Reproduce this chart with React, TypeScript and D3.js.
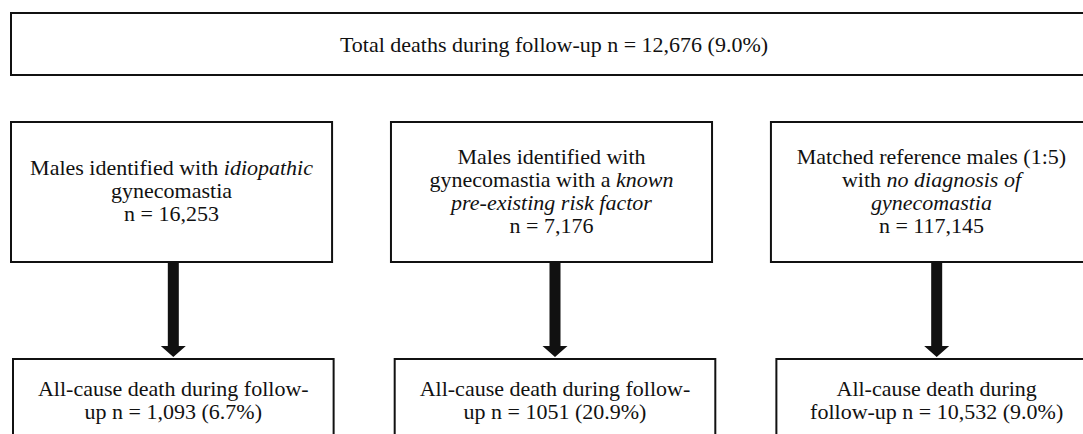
import React, { useRef, useEffect } from 'react';
import * as d3 from 'd3';

// Flowchart content (italic parts wrapped in *...*)
const totalLabel = 'Total deaths during follow-up n = 12,676 (9.0%)';
const groups = ['idiopathic', 'riskFactor', 'reference'];
const groupLabels = [
  ['Males identified with *idiopathic*', 'gynecomastia', 'n = 16,253'],
  ['Males identified with', 'gynecomastia with a *known*', '*pre-existing risk factor*', 'n = 7,176'],
  ['Matched reference males (1:5)', 'with *no diagnosis of*', '*gynecomastia*', 'n = 117,145'],
];
const deathLabels = [
  ['All-cause death during follow-', 'up n = 1,093 (6.7%)'],
  ['All-cause death during follow-', 'up n = 1051 (20.9%)'],
  ['All-cause death during', 'follow-up n = 10,532 (9.0%)'],
];

const W = 1083;
const H = 434;
const FONT = '"Liberation Serif", "Times New Roman", Times, serif';
const FONT_SIZE = 22;
const LINE_H = 23;
const INK = '#111';

// vertical layout of the rows
const rows = {
  total: [13, 75],
  group: [122, 262],
  arrow: [262, 357],
  death: [359, 490],
};

const FlowChart = () => {
  const ref = useRef<SVGSVGElement>(null);

  useEffect(() => {
    const svg = d3.select(ref.current);
    svg.selectAll('*').remove();

    // column scales for the two box rows
    const xTop = d3.scaleBand().domain(groups).range([11, 1092]).paddingInner(0.155);
    const xBottom = d3.scaleBand().domain(groups).range([13, 1097]).paddingInner(0.16);

    const writeLine = (sel, line: string) => {
      line.split('*').forEach((part, i) => {
        if (!part) return;
        sel.append('tspan')
          .attr('font-style', i % 2 === 1 ? 'italic' : 'normal')
          .text(part);
      });
    };

    const g = svg.append('g')
      .attr('font-family', FONT)
      .attr('font-size', FONT_SIZE)
      .attr('fill', INK);

    // Total deaths box
    g.append('rect')
      .attr('x', xTop.range()[0])
      .attr('y', rows.total[0])
      .attr('width', 1086)
      .attr('height', rows.total[1] - rows.total[0])
      .attr('fill', 'none')
      .attr('stroke', INK)
      .attr('stroke-width', 2);

    const totalText = g.append('text')
      .attr('x', xTop.range()[0] + 543)
      .attr('y', (rows.total[0] + rows.total[1]) / 2 + 8)
      .attr('text-anchor', 'middle');
    writeLine(totalText, totalLabel);

    // Group boxes
    const groupCy = (rows.group[0] + rows.group[1]) / 2;
    groups.forEach((key, i) => {
      const x0 = xTop(key);
      const bw = xTop.bandwidth();
      g.append('rect')
        .attr('x', x0)
        .attr('y', rows.group[0])
        .attr('width', bw)
        .attr('height', rows.group[1] - rows.group[0])
        .attr('fill', 'none')
        .attr('stroke', INK)
        .attr('stroke-width', 2);

      const lines = groupLabels[i];
      const firstBase = groupCy - ((lines.length - 1) / 2) * LINE_H + 6;
      lines.forEach((line, j) => {
        const t = g.append('text')
          .attr('x', x0 + bw / 2)
          .attr('y', firstBase + j * LINE_H)
          .attr('text-anchor', 'middle');
        writeLine(t, line);
      });
    });

    // Arrows (thick shaft + triangular head)
    const shaftW = 11;
    const headW = 25;
    const headH = 11;
    const arrowLine = d3.line();
    groups.forEach((key) => {
      const cx = xBottom(key) + xBottom.bandwidth() / 2;
      const [y0, y1] = rows.arrow;
      const pts: [number, number][] = [
        [cx - shaftW / 2, y0],
        [cx + shaftW / 2, y0],
        [cx + shaftW / 2, y1 - headH],
        [cx + headW / 2, y1 - headH],
        [cx, y1],
        [cx - headW / 2, y1 - headH],
        [cx - shaftW / 2, y1 - headH],
      ];
      g.append('path')
        .attr('d', arrowLine(pts) + 'Z')
        .attr('fill', INK);
    });

    // Death boxes
    groups.forEach((key, i) => {
      const x0 = xBottom(key);
      const bw = xBottom.bandwidth();
      g.append('rect')
        .attr('x', x0)
        .attr('y', rows.death[0])
        .attr('width', bw)
        .attr('height', rows.death[1] - rows.death[0])
        .attr('fill', 'none')
        .attr('stroke', INK)
        .attr('stroke-width', 2);

      deathLabels[i].forEach((line, j) => {
        const t = g.append('text')
          .attr('x', x0 + bw / 2)
          .attr('y', rows.death[0] + 37 + j * LINE_H)
          .attr('text-anchor', 'middle');
        writeLine(t, line);
      });
    });
  }, []);

  return (
    <svg
      ref={ref}
      width={W}
      height={H}
      style={{ position: 'fixed', left: 0, top: 0, background: '#fff', display: 'block' }}
    />
  );
};

export default function App() {
  return <FlowChart />;
}
